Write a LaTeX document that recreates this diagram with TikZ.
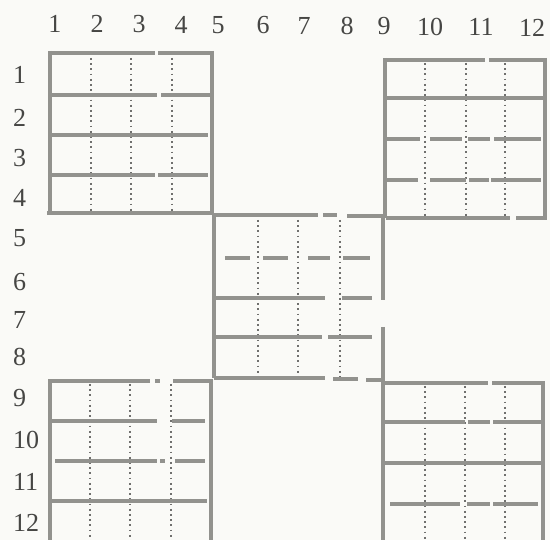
\documentclass[tikz,border=0pt]{standalone}
\usepackage{fontspec}
\setmainfont{Liberation Serif}
\usepackage{xcolor}
\usepackage{tikz}
\definecolor{PlanPaper}{RGB}{250,250,247}
\definecolor{PlanWall}{RGB}{146,146,142}
\definecolor{PlanDot}{RGB}{112,112,110}
\definecolor{PlanInk}{RGB}{70,70,68}

\tikzset{
  wall/.style={PlanWall, line width=4.8pt},
  partition/.style={PlanDot, line width=1.8pt, dash pattern=on 1.8pt off 3.4pt},
  gridnum/.style={PlanInk, inner sep=0pt, font=\fontsize{26}{28}\selectfont},
}

\begin{document}
\begin{tikzpicture}[x=1pt,y=-1pt]
  \path[use as bounding box] (0,0) rectangle (550,540);
  \fill[PlanPaper] (0,0) rectangle (550,540);
  % numbers along the top and down the left side
  \foreach \n/\x/\y in {1/55/24,2/97/24,3/139/24,4/181/25,5/218/25,6/263/25,
                        7/304/26,8/347/26,9/384/26,10/430/27,11/481/27,12/532/28}{
    \node[gridnum] (col\n) at (\x,\y) {\n};
  }
  \foreach \n/\y in {1/75,2/118,3/158,4/198,5/238,6/282,
                     7/320,8/357,9/398,10/440,11/482,12/523}{
    \node[gridnum, anchor=west] (row\n) at (13,\y) {\n};
  }
  % dotted partitions inside the five blocks
  \foreach \x in {91,131,172} \draw[partition] (\x,58) -- (\x,212);
  \foreach \x in {425,466,505} \draw[partition] (\x,63) -- (\x,217);
  \foreach \x in {258,298,340} \draw[partition] (\x,220) -- (\x,378);
  \foreach \x in {90,130,171} \draw[partition] (\x,384) -- (\x,540);
  \foreach \x in {425,465,505} \draw[partition] (\x,386) -- (\x,540);
  % walls, horizontal pieces
  \foreach \xa/\xb/\y in {
      48/155/53, 158/214/53, 52/157/95, 161/210/95, 52/208/135, 52/155/175, 158/208/175,
      47/214/213, 212/318/215, 323/337/215, 347/386/216, 386/510/218, 516/547/218,
      383/485/60, 489/547/60, 385/543/98,
      385/420/139, 430/462/139, 468/490/139, 494/541/139,
      385/418/180, 430/466/180, 469/489/180, 491/541/180,
      225/250/258, 263/288/258, 308/330/258, 343/370/258,
      216/325/298, 342/372/298, 216/322/337, 328/372/337,
      214/325/378, 333/358/379, 366/385/380,
      48/150/381, 155/160/381, 173/213/381,
      52/157/421, 172/205/421, 55/157/461, 160/165/461, 175/205/461, 52/207/501,
      383/488/383, 492/545/383,
      385/465/422, 468/490/422, 493/541/422, 385/542/463,
      390/460/504, 467/490/504, 493/538/504}{
    \draw[wall] (\xa,\y) -- (\xb,\y);
  }
  % walls, vertical pieces
  \foreach \x/\ya/\yb in {
      50/51/212, 212/51/212, 385/58/218, 545/58/218,
      214/216/378, 383/218/300, 383/327/381,
      50/380/540, 211/380/540, 383/382/540, 543/382/540}{
    \draw[wall] (\x,\ya) -- (\x,\yb);
  }
\end{tikzpicture}
\end{document}
